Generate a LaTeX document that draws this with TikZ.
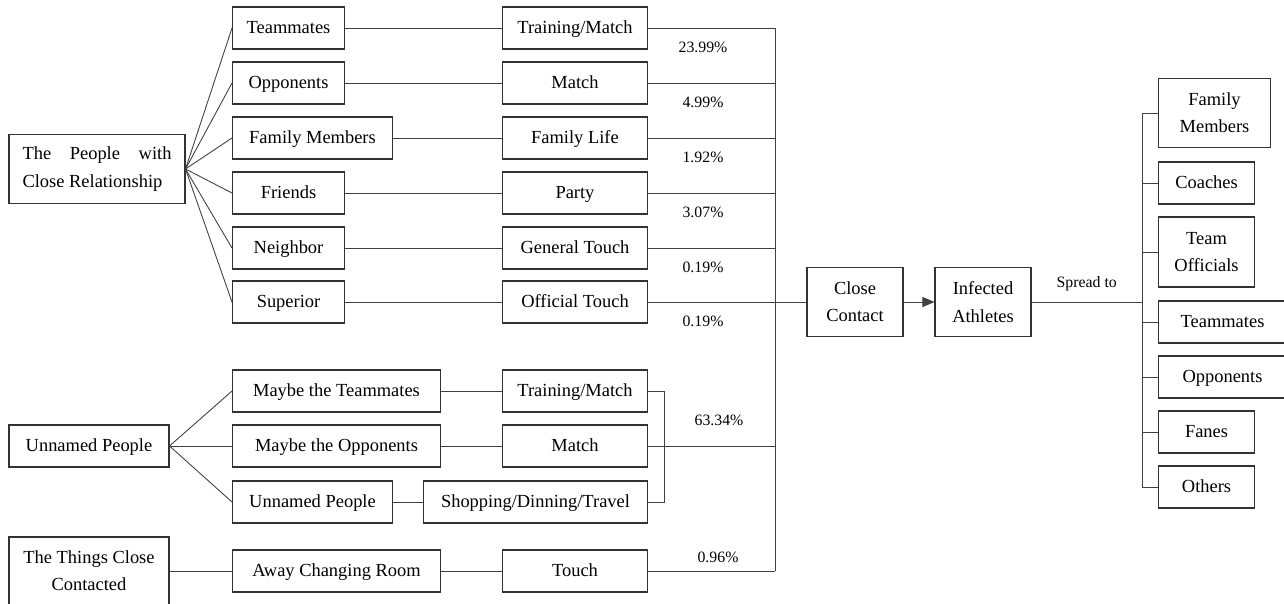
\documentclass[tikz,border=0pt]{standalone}
\usepackage{fontspec}
\setmainfont{Liberation Serif}
\usetikzlibrary{arrows.meta}

\tikzset{
  box/.style={draw=black!80, line width=0.6pt, minimum height=0.84cm, inner sep=2pt, align=center,
    font=\fontsize{10.5}{15.5}\selectfont, text height=1.5ex, text depth=0.25ex},
  tbox/.style={box, text height=, text depth=},
  pct/.style={font=\small},
  link/.style={draw=black!75, line width=0.5pt},
}

\begin{document}
\begin{tikzpicture}[x=0.02cm, y=-0.02cm]
  \useasboundingbox (0,0) rectangle (1284,603);
  \node[tbox, align=left, minimum width=3.52cm, minimum height=1.38cm] (rel) at (97,169) {\makebox[2.98cm][s]{The People with}\\Close Relationship};
  \node[box, minimum width=3.2cm] (unn) at (89,446) {Unnamed People};
  \node[tbox, minimum width=3.2cm, minimum height=1.36cm] (thg) at (89,571) {The Things Close\\Contacted};
  \node[box, anchor=west, minimum width=2.24cm] (tm) at (232,28) {Teammates};
  \node[box, anchor=west, minimum width=2.24cm] (op) at (232,83) {Opponents};
  \node[box, anchor=west, minimum width=3.2cm] (fmb) at (232,138) {Family Members};
  \node[box, anchor=west, minimum width=2.24cm] (fr) at (232,193) {Friends};
  \node[box, anchor=west, minimum width=2.24cm] (nb) at (232,248) {Neighbor};
  \node[box, anchor=west, minimum width=2.24cm] (sup) at (232,302) {Superior};
  \node[box, anchor=west, minimum width=4.16cm] (mt) at (232,391) {Maybe the Teammates};
  \node[box, anchor=west, minimum width=4.16cm] (mo) at (232,446) {Maybe the Opponents};
  \node[box, anchor=west, minimum width=3.2cm] (un) at (232,502) {Unnamed People};
  \node[box, anchor=west, minimum width=4.16cm] (aw) at (232,571) {Away Changing Room};
  \node[box, anchor=east, minimum width=2.9cm] (trm) at (648,28) {Training/Match};
  \node[box, anchor=east, minimum width=2.9cm] (mat) at (648,83) {Match};
  \node[box, anchor=east, minimum width=2.9cm] (fl) at (648,138) {Family Life};
  \node[box, anchor=east, minimum width=2.9cm] (pty) at (648,193) {Party};
  \node[box, anchor=east, minimum width=2.9cm] (gt) at (648,248) {General Touch};
  \node[box, anchor=east, minimum width=2.9cm] (ot) at (648,302) {Official Touch};
  \node[box, anchor=east, minimum width=2.9cm] (trm2) at (648,391) {Training/Match};
  \node[box, anchor=east, minimum width=2.9cm] (mat2) at (648,446) {Match};
  \node[box, anchor=east, minimum width=4.48cm] (sdt) at (648,502) {Shopping/Dinning/Travel};
  \node[box, anchor=east, minimum width=2.9cm] (tch) at (648,571) {Touch};
  \node[pct] (p1) at (703,47) {23.99\%};
  \node[pct] (p2) at (703,102) {4.99\%};
  \node[pct] (p3) at (703,157) {1.92\%};
  \node[pct] (p4) at (703,212) {3.07\%};
  \node[pct] (p5) at (703,267) {0.19\%};
  \node[pct] (p6) at (703,321) {0.19\%};
  \node[pct] (p7) at (719,420) {63.34\%};
  \node[pct] (p8) at (718,557) {0.96\%};
  \node[tbox, minimum width=1.92cm, minimum height=1.38cm] (cc) at (855,302) {Close\\Contact};
  \node[tbox, minimum width=1.92cm, minimum height=1.38cm] (ia) at (983,302) {Infected\\Athletes};
  \node[tbox, anchor=west, minimum width=2.24cm, minimum height=1.38cm] (fm2) at (1158,113) {Family\\Members};
  \node[box, anchor=west, minimum width=1.92cm] (co) at (1158,183) {Coaches};
  \node[tbox, anchor=west, minimum width=1.92cm, minimum height=1.4cm] (tof) at (1158,252) {Team\\Officials};
  \node[box, anchor=west, minimum width=2.56cm] (tm3) at (1158,322) {Teammates};
  \node[box, anchor=west, minimum width=2.56cm] (op3) at (1158,377) {Opponents};
  \node[box, anchor=west, minimum width=1.92cm] (fa) at (1158,432) {Fanes};
  \node[box, anchor=west, minimum width=1.92cm] (oth) at (1158,487) {Others};
  \coordinate (bus) at (775,0);
  \coordinate (brk) at (664,0);
  \coordinate (sbus) at (1142,0);
  \foreach \n in {tm,op,fmb,fr,nb,sup}
    \draw[link] (rel.east) -- (\n.west);
  \foreach \n in {mt,mo,un}
    \draw[link] (unn.east) -- (\n.west);
  \draw[link] (thg.east |- aw.west) -- (aw.west);
  \foreach \a/\b in {tm/trm,op/mat,fmb/fl,fr/pty,nb/gt,sup/ot,mt/trm2,mo/mat2,un/sdt,aw/tch}
    \draw[link] (\a) -- (\b);
  \foreach \n in {trm,mat,fl,pty,gt,ot,mat2,tch}
    \draw[link] (\n.east) -- (\n.east -| bus);
  \draw[link] (trm.east -| bus) -- (tch.east -| bus);
  \draw[link] (trm2.east) -- (trm2.east -| brk) -- (sdt.east -| brk) -- (sdt.east);
  \draw[link] (cc.west -| bus) -- (cc.west);
  \draw[link, -{Triangle[length=2.4mm, width=2mm]}] (cc) -- (ia);
  \draw[link] (ia.east) -- node[pct, above=3pt] (spr) {Spread to} (ia.east -| sbus);
  \draw[link] (fm2.west -| sbus) -- (oth.west -| sbus);
  \foreach \n in {fm2,co,tof,tm3,op3,fa,oth}
    \draw[link] (\n.west -| sbus) -- (\n.west);
\end{tikzpicture}
\end{document}
